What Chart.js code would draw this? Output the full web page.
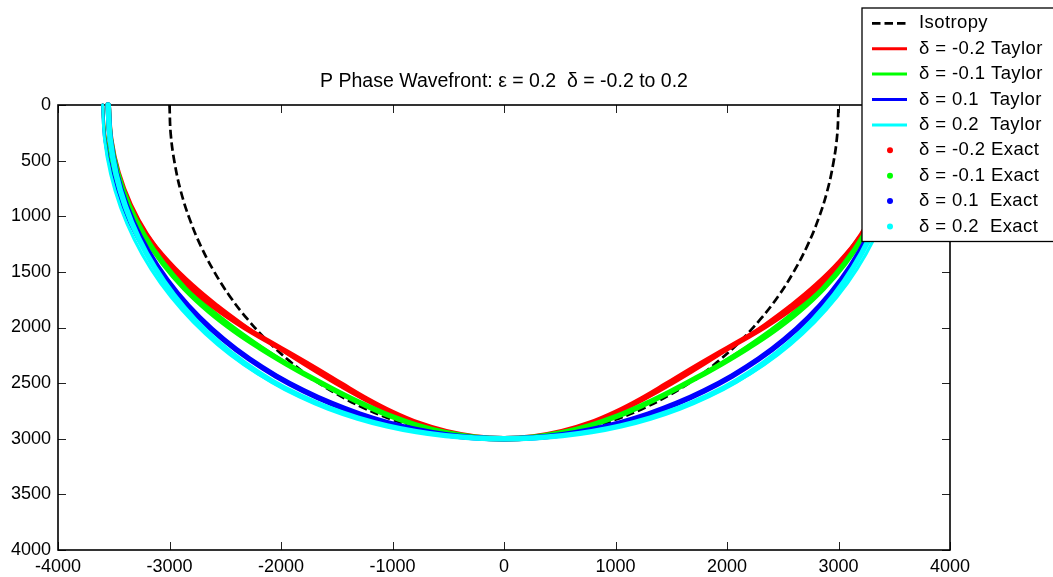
<!DOCTYPE html>
<html><head><meta charset="utf-8">
<script src="https://cdn.jsdelivr.net/npm/chart.js@4.4.1/dist/chart.umd.min.js"></script>
<style>html,body{margin:0;padding:0;background:#fff;}#wrap{position:relative;width:1053px;height:577px;}</style>
</head><body><div id="wrap"><canvas id="c"></canvas></div>
<script>
const titleText = 'P Phase Wavefront: \u03b5 = 0.2  \u03b4 = -0.2 to 0.2';
const xTicks = [-4000,-3000,-2000,-1000,0,1000,2000,3000,4000];
const yTicks = [0,500,1000,1500,2000,2500,3000,3500,4000];
const seriesLabels = ['Isotropy','\u03b4 = -0.2 Taylor','\u03b4 = -0.1 Taylor','\u03b4 = 0.1  Taylor','\u03b4 = 0.2  Taylor','\u03b4 = -0.2 Exact','\u03b4 = -0.1 Exact','\u03b4 = 0.1  Exact','\u03b4 = 0.2  Exact'];

const isoX = [-3000,-2989,-2954,-2898,-2819,-2719,-2598,-2458,-2298,-2121,-1928,-1721,-1500,-1268,-1026,-777,-521,-262,0,262,521,777,1026,1268,1500,1721,1928,2121,2298,2458,2598,2719,2819,2898,2954,2989,3000];
const isoZ = [0,262,521,777,1026,1268,1500,1721,1928,2121,2298,2458,2598,2719,2819,2898,2954,2989,3000,2989,2954,2898,2819,2719,2598,2458,2298,2121,1928,1721,1500,1268,1026,777,521,262,0];

const taylorM2X = [-3600,-3573,-3493,-3366,-3201,-3006,-2793,-2570,-2345,-2121,-1901,-1682,-1463,-1239,-1008,-768,-518,-261,0,261,518,768,1008,1239,1463,1682,1901,2121,2345,2570,2793,3006,3201,3366,3493,3573,3600];
const taylorM2Z = [0,313,616,902,1165,1402,1613,1800,1968,2121,2265,2402,2533,2657,2769,2864,2938,2984,3000,2984,2938,2864,2769,2657,2533,2402,2265,2121,1968,1800,1613,1402,1165,902,616,313,0];

const taylorM1X = [-3600,-3575,-3502,-3384,-3230,-3046,-2842,-2625,-2401,-2174,-1948,-1720,-1491,-1257,-1018,-772,-520,-261,0,261,520,772,1018,1257,1491,1720,1948,2174,2401,2625,2842,3046,3230,3384,3502,3575,3600];
const taylorM1Z = [0,313,617,907,1176,1420,1641,1838,2014,2174,2321,2456,2582,2696,2798,2882,2946,2986,3000,2986,2946,2882,2798,2696,2582,2456,2321,2174,2014,1838,1641,1420,1176,907,617,313,0];

const taylorP1X = [-3600,-3580,-3519,-3421,-3288,-3126,-2939,-2733,-2512,-2280,-2041,-1796,-1547,-1295,-1040,-782,-523,-262,0,262,523,782,1040,1295,1547,1796,2041,2280,2512,2733,2939,3126,3288,3421,3519,3580,3600];
const taylorP1Z = [0,313,621,917,1197,1458,1697,1914,2108,2280,2432,2565,2679,2776,2856,2919,2964,2991,3000,2991,2964,2919,2856,2776,2679,2565,2432,2280,2108,1914,1697,1458,1197,917,621,313,0];

const taylorP2X = [-3600,-3582,-3528,-3439,-3317,-3166,-2988,-2787,-2568,-2334,-2088,-1834,-1575,-1313,-1050,-787,-524,-262,0,262,524,787,1050,1313,1575,1834,2088,2334,2568,2787,2988,3166,3317,3439,3528,3582,3600];
const taylorP2Z = [0,313,622,921,1207,1476,1725,1952,2155,2334,2488,2619,2728,2816,2885,2937,2972,2993,3000,2993,2972,2937,2885,2816,2728,2619,2488,2334,2155,1952,1725,1476,1207,921,622,313,0];

const exactM2X = [-3550,-3527,-3461,-3353,-3207,-3027,-2821,-2595,-2359,-2121,-1890,-1668,-1451,-1232,-1005,-767,-518,-261,0,261,518,767,1005,1232,1451,1668,1890,2121,2359,2595,2821,3027,3207,3353,3461,3527,3550];
const exactM2Z = [0,309,610,898,1167,1412,1629,1817,1980,2121,2252,2382,2514,2643,2761,2862,2937,2984,3000,2984,2937,2862,2761,2643,2514,2382,2252,2121,1980,1817,1629,1412,1167,898,610,309,0];

const exactM1X = [-3550,-3529,-3466,-3364,-3226,-3056,-2861,-2646,-2419,-2185,-1952,-1720,-1489,-1256,-1018,-772,-520,-261,0,261,520,772,1018,1256,1489,1720,1952,2185,2419,2646,2861,3056,3226,3364,3466,3529,3550];
const exactM1Z = [0,309,611,901,1174,1425,1652,1853,2029,2185,2326,2456,2579,2693,2796,2881,2946,2986,3000,2986,2946,2881,2796,2693,2579,2456,2326,2185,2029,1853,1652,1425,1174,901,611,309,0];

const exactP1X = [-3550,-3531,-3476,-3385,-3262,-3109,-2931,-2731,-2514,-2284,-2044,-1798,-1548,-1295,-1040,-782,-523,-262,0,262,523,782,1040,1295,1548,1798,2044,2284,2514,2731,2931,3109,3262,3385,3476,3531,3550];
const exactP1Z = [0,309,613,907,1187,1450,1692,1912,2109,2284,2436,2568,2682,2778,2857,2919,2964,2991,3000,2991,2964,2919,2857,2778,2682,2568,2436,2284,2109,1912,1692,1450,1187,907,613,309,0];

const exactP2X = [-3550,-3532,-3481,-3396,-3279,-3134,-2962,-2768,-2554,-2324,-2082,-1831,-1573,-1312,-1050,-787,-524,-262,0,262,524,787,1050,1312,1573,1831,2082,2324,2554,2768,2962,3134,3279,3396,3481,3532,3550];
const exactP2Z = [0,309,614,910,1194,1461,1710,1938,2143,2324,2481,2614,2725,2814,2884,2936,2972,2993,3000,2993,2972,2936,2884,2814,2725,2614,2481,2324,2143,1938,1710,1461,1194,910,614,309,0];

const FONT = '"Liberation Sans", Arial, Helvetica, sans-serif';
const FS = 18;

function pts(xs, zs){ return xs.map((x,i)=>({x:x, y:zs[i]})); }
function mk(i, xs, zs, color, kind, extra){
  return Object.assign({
    label: seriesLabels[i], data: pts(xs, zs), borderColor: color, backgroundColor: color,
    showLine: true, pointRadius: 0, pointHoverRadius: 0, tension: 0.4, fill: false,
    clip: 8, order: 8 - i, legendKind: kind, borderCapStyle: 'round', borderJoinStyle: 'round'
  }, extra || {});
}

const datasets = [
  mk(0, isoX, isoZ, '#000000', 'dash', {borderWidth: 2.7, borderDash: [8.5, 4], borderCapStyle: 'butt'}),
  mk(1, taylorM2X, taylorM2Z, '#ff0000', 'line', {borderWidth: 3}),
  mk(2, taylorM1X, taylorM1Z, '#00ff00', 'line', {borderWidth: 3}),
  mk(3, taylorP1X, taylorP1Z, '#0000ff', 'line', {borderWidth: 3}),
  mk(4, taylorP2X, taylorP2Z, '#00ffff', 'line', {borderWidth: 3}),
  mk(5, exactM2X, exactM2Z, '#ff0000', 'dot', {borderWidth: 5.5}),
  mk(6, exactM1X, exactM1Z, '#00ff00', 'dot', {borderWidth: 5.5}),
  mk(7, exactP1X, exactP1Z, '#0000ff', 'dot', {borderWidth: 5.5}),
  mk(8, exactP2X, exactP2Z, '#00ffff', 'dot', {borderWidth: 5.5})
];

const framePlugin = {
  id: 'frame',
  beforeDatasetsDraw(chart){
    const ctx = chart.ctx, a = chart.chartArea, xs = chart.scales.x, ys = chart.scales.y;
    ctx.save();
    ctx.strokeStyle = '#222'; ctx.lineWidth = 1;
    ctx.beginPath();
    xTicks.forEach(v => { const p = Math.round(xs.getPixelForValue(v)) + 0.5;
      ctx.moveTo(p, a.bottom); ctx.lineTo(p, a.bottom - 8);
      ctx.moveTo(p, a.top); ctx.lineTo(p, a.top + 8); });
    yTicks.forEach(v => { const p = Math.round(ys.getPixelForValue(v)) + 0.5;
      ctx.moveTo(a.left, p); ctx.lineTo(a.left + 8, p);
      ctx.moveTo(a.right, p); ctx.lineTo(a.right - 8, p); });
    ctx.stroke();
    ctx.strokeStyle = '#000'; ctx.lineWidth = 1.6;
    ctx.strokeRect(a.left, a.top, a.right - a.left, a.bottom - a.top);
    ctx.restore();
  }
};

const legendPlugin = {
  id: 'mlegend',
  afterDraw(chart){
    const ctx = chart.ctx;
    const L = 862, T = 8, B = 241.5;
    ctx.save();
    ctx.fillStyle = '#fff';
    ctx.fillRect(L, T, 1053 - L + 10, B - T);
    ctx.strokeStyle = '#000'; ctx.lineWidth = 1.3;
    ctx.strokeRect(L, T, 1053 - L + 10, B - T);
    ctx.font = '18.5px ' + FONT;
    if ('letterSpacing' in ctx) ctx.letterSpacing = '0.4px';
    ctx.textBaseline = 'middle'; ctx.textAlign = 'left';
    chart.data.datasets.forEach((ds, i) => {
      const y = 23.3 + i * 25.4;
      ctx.strokeStyle = ds.borderColor; ctx.fillStyle = ds.borderColor;
      if (ds.legendKind === 'dot') {
        ctx.beginPath(); ctx.arc(890, y, 3, 0, Math.PI * 2); ctx.fill();
      } else {
        ctx.lineWidth = ds.borderWidth;
        ctx.setLineDash(ds.legendKind === 'dash' ? [8.5, 4] : []);
        ctx.beginPath(); ctx.moveTo(872, y); ctx.lineTo(907, y); ctx.stroke();
        ctx.setLineDash([]);
      }
      ctx.fillStyle = '#000';
      ctx.fillText(ds.label, 919, y);
    });
    ctx.restore();
  }
};

new Chart(document.getElementById('c'), {
  type: 'scatter',
  data: { datasets: datasets },
  options: {
    responsive: true, maintainAspectRatio: false, animation: false, events: [],
    layout: { padding: { left: 0, right: 103, top: 0, bottom: 0 } },
    plugins: {
      legend: { display: false },
      tooltip: { enabled: false },
      title: { display: true, text: titleText, fullSize: false, color: '#000',
        font: { family: FONT, size: 19.5, weight: 'normal' }, padding: { top: 70.1, bottom: 11.5 } }
    },
    scales: {
      x: { type: 'linear', position: 'bottom', min: -4000, max: 4000,
        afterBuildTicks: s => { s.ticks = xTicks.map(v => ({ value: v })); },
        afterFit: s => { s.height = 27; },
        ticks: { callback: v => String(v), color: '#000', font: { family: FONT, size: FS }, padding: 6, maxRotation: 0, autoSkip: false },
        grid: { display: false, drawTicks: false }, border: { display: false } },
      y: { type: 'linear', position: 'left', reverse: true, min: 0, max: 4000,
        afterBuildTicks: s => { s.ticks = yTicks.map(v => ({ value: v })); },
        afterFit: s => { s.width = 58; },
        ticks: { callback: v => String(v), color: '#000', font: { family: FONT, size: FS }, padding: 7, autoSkip: false },
        grid: { display: false, drawTicks: false }, border: { display: false } }
    }
  },
  plugins: [framePlugin, legendPlugin]
});
</script></body></html>
